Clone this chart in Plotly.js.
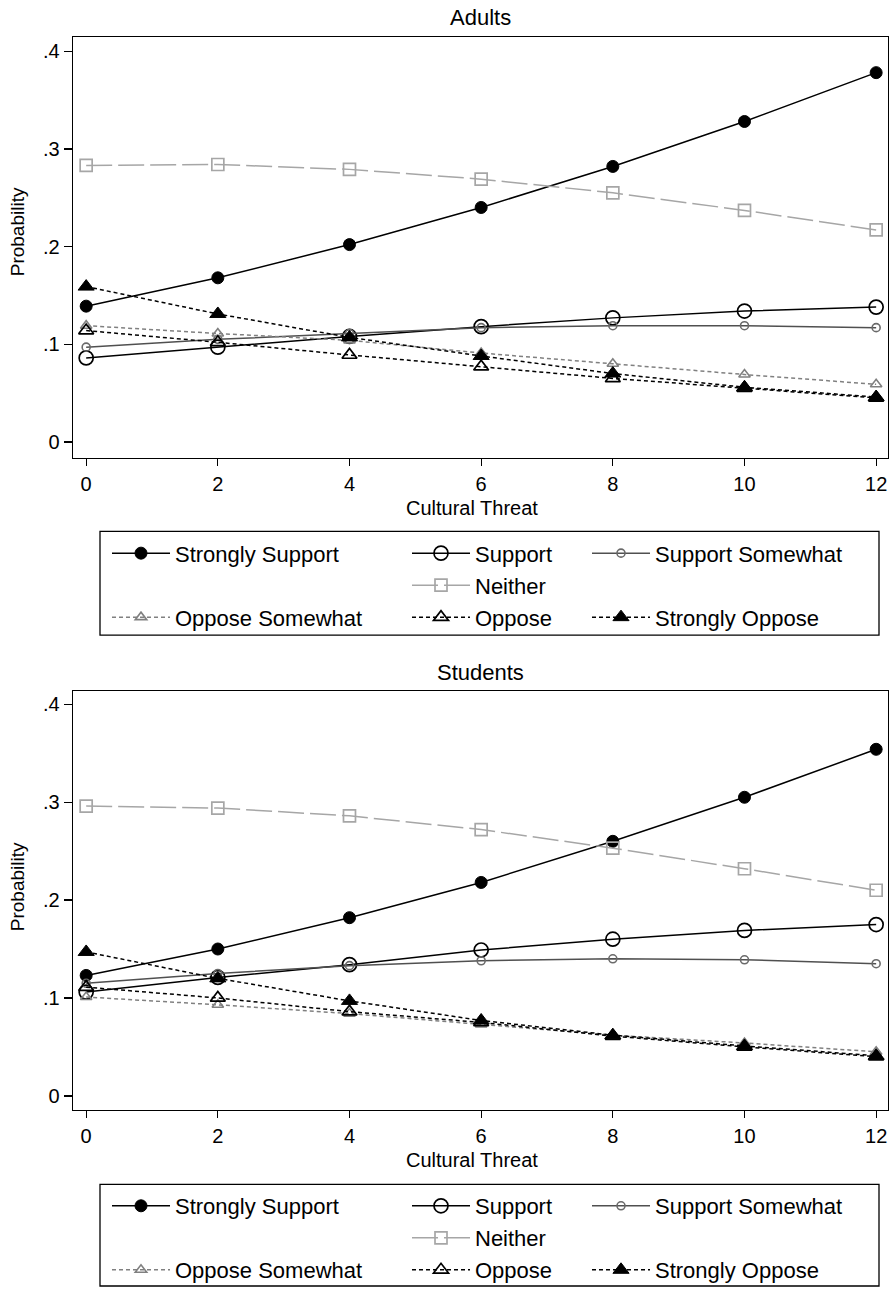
<!DOCTYPE html>
<html>
<head>
<meta charset="utf-8">
<script src="https://cdn.plot.ly/plotly-3.0.1.min.js"></script>
<style>
html,body{margin:0;padding:0;background:#fff;}
#chart{width:893px;height:1291px;}
</style>
</head>
<body>
<div id="chart"></div>
<script>
// ---- data ----
const threat = [0, 2, 4, 6, 8, 10, 12];
const seriesNames = ["Strongly Support", "Support", "Support Somewhat", "Neither", "Oppose Somewhat", "Oppose", "Strongly Oppose"];
const panelTitles = ["Adults", "Students"];
const xTitle = "Cultural Threat";
const yTitle = "Probability";

// Adults
const adultsStronglySupport = [0.139, 0.168, 0.202, 0.240, 0.282, 0.328, 0.378];
const adultsSupport         = [0.086, 0.097, 0.108, 0.118, 0.127, 0.134, 0.138];
const adultsSupportSomewhat = [0.097, 0.105, 0.111, 0.117, 0.119, 0.119, 0.117];
const adultsNeither         = [0.283, 0.284, 0.279, 0.269, 0.255, 0.237, 0.217];
const adultsOpposeSomewhat  = [0.119, 0.111, 0.104, 0.091, 0.080, 0.069, 0.059];
const adultsOppose          = [0.114, 0.102, 0.089, 0.077, 0.065, 0.055, 0.045];
const adultsStronglyOppose  = [0.159, 0.131, 0.107, 0.088, 0.070, 0.056, 0.046];

// Students
const studentsStronglySupport = [0.123, 0.150, 0.182, 0.218, 0.260, 0.305, 0.354];
const studentsSupport         = [0.106, 0.121, 0.134, 0.149, 0.160, 0.169, 0.175];
const studentsSupportSomewhat = [0.115, 0.125, 0.133, 0.138, 0.140, 0.139, 0.135];
const studentsNeither         = [0.296, 0.294, 0.286, 0.272, 0.253, 0.232, 0.210];
const studentsOpposeSomewhat  = [0.101, 0.093, 0.084, 0.073, 0.062, 0.054, 0.045];
const studentsOppose          = [0.111, 0.100, 0.086, 0.075, 0.061, 0.050, 0.040];
const studentsStronglyOppose  = [0.147, 0.120, 0.097, 0.077, 0.062, 0.051, 0.041];

const yTickVals = [0, 0.1, 0.2, 0.3, 0.4];
const yTickText = ["0", ".1", ".2", ".3", ".4"];
const xTickVals = [0, 2, 4, 6, 8, 10, 12];

// ---- styles ----
const FONT = "Liberation Sans, Arial, Helvetica, sans-serif";
const DOT = "4px,3px";
const styles = [
  {line:{color:"#000", width:1.5, dash:"solid"}, marker:{symbol:"circle", size:12, color:"#000", line:{color:"#000", width:1}}, col:0},
  {line:{color:"#000", width:1.5, dash:"solid"}, marker:{symbol:"circle-open", size:14, color:"#000", line:{color:"#000", width:1.7}}, col:1},
  {line:{color:"#505050", width:1.5, dash:"solid"}, marker:{symbol:"circle-open", size:8, color:"#6a6a6a", line:{color:"#6a6a6a", width:1.6}}, col:2},
  {line:{color:"#a6a6a6", width:1.5, dash:"26px,6px"}, marker:{symbol:"square-open", size:12, color:"#a6a6a6", line:{color:"#a6a6a6", width:1.7}}, col:1},
  {line:{color:"#808080", width:1.5, dash:DOT}, marker:{symbol:"triangle-up-open", size:10, color:"#808080", line:{color:"#808080", width:1.6}}, col:0},
  {line:{color:"#000", width:1.5, dash:DOT}, marker:{symbol:"triangle-up-open", size:13, color:"#000", line:{color:"#000", width:1.7}}, col:1},
  {line:{color:"#000", width:1.5, dash:DOT}, marker:{symbol:"triangle-up", size:14, color:"#000", line:{color:"#000", width:1}}, col:2}
];

const panels = [
  [adultsStronglySupport, adultsSupport, adultsSupportSomewhat, adultsNeither, adultsOpposeSomewhat, adultsOppose, adultsStronglyOppose],
  [studentsStronglySupport, studentsSupport, studentsSupportSomewhat, studentsNeither, studentsOpposeSomewhat, studentsOppose, studentsStronglyOppose]
];

const traces = [];
panels.forEach((vals, p) => {
  vals.forEach((ys, i) => {
    const st = styles[i];
    const legendIdx = p * 3 + st.col + 1;
    traces.push({
      type: "scatter", mode: "lines+markers",
      x: threat, y: ys, name: seriesNames[i],
      xaxis: p === 0 ? "x" : "x2", yaxis: p === 0 ? "y" : "y2",
      line: st.line, marker: st.marker,
      legend: legendIdx === 1 ? "legend" : "legend" + legendIdx,
      legendgroup: "g" + p + "_" + i,
      showlegend: true
    });
  });
});

const H = 1291, W = 893, ML = 73, MR = 5;
const PW = W - ML - MR;
const py = v => 1 - v / H;          // pixel y -> paper y
const px = v => (v - ML) / PW;      // pixel x -> paper x

function xAxis(anchor) {
  return {
    anchor: anchor, range: [-0.2, 12.18], tickvals: xTickVals,
    ticks: "outside", ticklen: 7, tickwidth: 1.3, tickcolor: "#000",
    showline: true, mirror: true, linecolor: "#000", linewidth: 1.3,
    showgrid: false, zeroline: false, ticklabelstandoff: 1,
    tickfont: {family: FONT, size: 20, color: "#000"},
    automargin: false, fixedrange: true
  };
}
function yAxis(anchor, domain, range) {
  return {
    anchor: anchor, domain: domain, range: range, tickvals: yTickVals, ticktext: yTickText,
    ticks: "outside", ticklen: 8, tickwidth: 1.3, tickcolor: "#000",
    showline: true, mirror: true, linecolor: "#000", linewidth: 1.3,
    showgrid: false, zeroline: false,
    tickfont: {family: FONT, size: 20, color: "#000"},
    automargin: false, fixedrange: true
  };
}

function legendDef(xPix, yPix, gap) {
  return {
    x: px(xPix), xanchor: "left", y: py(yPix), yanchor: "top",
    orientation: "v", traceorder: "grouped", tracegroupgap: gap,
    font: {family: FONT, size: 22, color: "#000"},
    bgcolor: "rgba(0,0,0,0)", borderwidth: 0, itemwidth: 58, itemclick: false, itemdoubleclick: false
  };
}

const rowGap = 0.4, bigGap = 0.4 + 32;
const legTop = [534, 1189];
const colX = [107, 407, 587];

function txt(text, xPix, yPix, size, angle) {
  return {text: text, xref: "paper", yref: "paper", x: px(xPix), y: py(yPix),
          xanchor: "center", yanchor: "middle", showarrow: false, textangle: angle || 0,
          font: {family: FONT, size: size, color: "#000"}};
}

const layout = {
  width: W, height: H,
  margin: {l: ML, r: MR, t: 0, b: 0},
  paper_bgcolor: "#fff", plot_bgcolor: "#fff",
  font: {family: FONT, color: "#000"},
  xaxis: xAxis("y"),
  yaxis: yAxis("x", [py(459), py(37.3)], [-0.016, 0.4143]),
  xaxis2: xAxis("y2"),
  yaxis2: yAxis("x2", [py(1113.3), py(693.3)], [-0.0143, 0.4134]),
  legend:  legendDef(colX[0], legTop[0], bigGap),
  legend2: legendDef(colX[1], legTop[0], rowGap),
  legend3: legendDef(colX[2], legTop[0], bigGap),
  legend4: legendDef(colX[0], legTop[1], bigGap),
  legend5: legendDef(colX[1], legTop[1], rowGap),
  legend6: legendDef(colX[2], legTop[1], bigGap),
  shapes: [
    {type: "rect", xref: "paper", yref: "paper", x0: px(100), x1: px(879), y0: py(637), y1: py(533), line: {color: "#000", width: 1.3}},
    {type: "rect", xref: "paper", yref: "paper", x0: px(100), x1: px(879), y0: py(1290), y1: py(1188), line: {color: "#000", width: 1.3}}
  ],
  annotations: [
    txt(panelTitles[0], 480, 18, 22),
    txt(panelTitles[1], 480, 675, 22),
    txt(xTitle, 472, 510, 20),
    txt(xTitle, 472, 1164, 20),
    txt(yTitle, 17, 232, 19, -90),
    txt(yTitle, 17, 889, 19, -90)
  ]
};

Plotly.newPlot("chart", traces, layout, {displayModeBar: false, staticPlot: true});
</script>
</body>
</html>
